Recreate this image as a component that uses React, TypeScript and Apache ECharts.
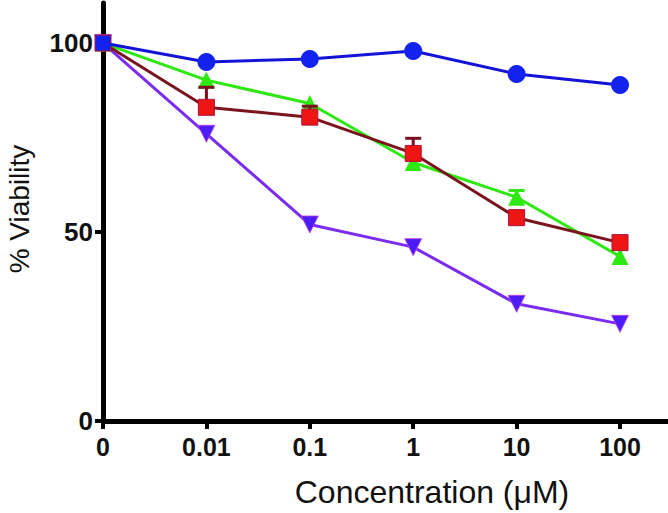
import React, { useEffect, useRef } from "react";
import * as echarts from "echarts";

const categories = ["0", "0.01", "0.1", "1", "10", "100"];
const blueValues = [100, 95, 95.8, 97.9, 91.8, 88.9];
const greenValues = [100, 90.2, 84, 68.4, 59.2, 43.5];
const redValues = [100, 83, 80.4, 70.8, 53.8, 47.2];
const purpleValues = [100, 76, 52, 46, 31, 25.7];
const redErrUpper = [null, 88.3, 83.3, 74.8, null, null];
const greenErrUpper = [null, null, null, null, 61, null];
const yTicks = [0, 50, 100];

const FONT = "'Liberation Sans', Arial, Helvetica, sans-serif";

function toPairs(vals: number[]) {
  return vals.map((v, i) => [i, v]);
}
function errPairs(means: number[], ups: (number | null)[]) {
  const out: number[][] = [];
  ups.forEach((u, i) => {
    if (u != null) out.push([i, means[i], u]);
  });
  return out;
}

function errSeries(data: number[][], color: string, z: number) {
  return {
    type: "custom",
    z,
    silent: true,
    data,
    renderItem: (params: any, api: any) => {
      const x = api.value(0);
      const m = api.coord([x, api.value(1)]);
      const h = api.coord([x, api.value(2)]);
      return {
        type: "group",
        children: [
          {
            type: "line",
            shape: { x1: m[0], y1: m[1], x2: h[0], y2: h[1] },
            style: { stroke: color, lineWidth: 3 },
          },
          {
            type: "line",
            shape: { x1: h[0] - 8, y1: h[1], x2: h[0] + 8, y2: h[1] },
            style: { stroke: color, lineWidth: 3 },
          },
        ],
      };
    },
  };
}

export default function App() {
  const ref = useRef<HTMLDivElement>(null);
  useEffect(() => {
    if (!ref.current) return;
    const chart = echarts.init(ref.current, undefined, { renderer: "svg" });
    const blueData: any[] = toPairs(blueValues).map((p, i) =>
      i === 0 ? { value: p, symbol: "rect", symbolSize: 15 } : p
    );
    chart.setOption({
      animation: false,
      backgroundColor: "#ffffff",
      grid: { left: 103, right: 0, top: 3, bottom: 92, containLabel: false },
      xAxis: {
        type: "value",
        min: 0,
        max: 5.464,
        interval: 1,
        splitLine: { show: false },
        axisLine: { show: true, onZero: false, lineStyle: { color: "#000", width: 5 } },
        axisTick: { show: true, length: 8, lineStyle: { color: "#000", width: 4 } },
        axisLabel: {
          margin: 13,
          fontFamily: FONT,
          fontWeight: "bold",
          fontSize: 25,
          color: "#111",
          showMaxLabel: false,
          formatter: (v: number) =>
            Math.abs(v - Math.round(v)) < 1e-6 && categories[Math.round(v)] !== undefined
              ? categories[Math.round(v)]
              : "",
        },
      },
      yAxis: {
        type: "value",
        min: 0,
        max: 110.6,
        interval: 50,
        splitLine: { show: false },
        axisLine: { show: true, lineStyle: { color: "#000", width: 5 } },
        axisTick: { show: true, length: 8, lineStyle: { color: "#000", width: 4 } },
        axisLabel: {
          margin: 10,
          fontFamily: FONT,
          fontWeight: "bold",
          fontSize: 26,
          color: "#111",
          showMaxLabel: false,
          formatter: (v: number) => (yTicks.indexOf(v) >= 0 ? String(v) : ""),
        },
      },
      graphic: [
        {
          type: "text",
          x: 432,
          y: 492,
          style: {
            text: "Concentration (μM)",
            fontFamily: FONT,
            fontSize: 32,
            fill: "#111",
            align: "center",
            verticalAlign: "middle",
          },
        },
        {
          type: "text",
          x: 19,
          y: 209,
          rotation: Math.PI / 2,
          style: {
            text: "% Viability",
            fontFamily: FONT,
            fontSize: 28,
            fill: "#111",
            align: "center",
            verticalAlign: "middle",
          },
        },
      ],
      series: [
        {
          type: "line",
          z: 2,
          data: toPairs(purpleValues),
          symbol: "triangle",
          symbolRotate: 180,
          symbolSize: 17,
          lineStyle: { color: "#7a2cf0", width: 3 },
          itemStyle: { color: "#4b1cf5", borderColor: "#c040e0", borderWidth: 0.8 },
        },
        errSeries(errPairs(greenValues, greenErrUpper), "#2ee812", 3),
        {
          type: "line",
          z: 4,
          data: toPairs(greenValues),
          symbol: "triangle",
          symbolSize: 17,
          lineStyle: { color: "#2ee812", width: 3 },
          itemStyle: { color: "#2ee812" },
        },
        errSeries(errPairs(redValues, redErrUpper), "#7a1020", 5),
        {
          type: "line",
          z: 6,
          data: toPairs(redValues),
          symbol: "rect",
          symbolSize: 16,
          lineStyle: { color: "#7a1520", width: 3 },
          itemStyle: { color: "#ee1515", borderColor: "#b0103a", borderWidth: 1 },
        },
        {
          type: "line",
          z: 8,
          data: blueData,
          symbol: "circle",
          symbolSize: 18,
          lineStyle: { color: "#1414d8", width: 3 },
          itemStyle: { color: "#1422f0" },
        },
      ],
    });
    return () => chart.dispose();
  }, []);
  return (
    <div
      ref={ref}
      style={{ position: "fixed", left: 0, top: 0, width: 668, height: 513, background: "#fff" }}
    />
  );
}
